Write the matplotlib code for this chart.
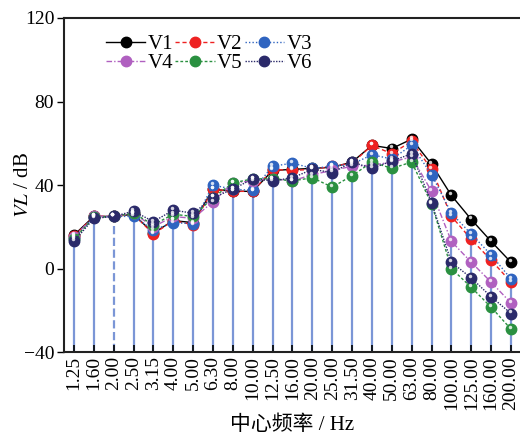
import matplotlib
matplotlib.use("Agg")
import matplotlib.pyplot as plt
import numpy as np

plt.rcParams['font.family'] = ['Liberation Serif', 'Noto Sans CJK SC']
plt.rcParams['mathtext.fontset'] = 'stix'

freqs = ["1.25", "1.60", "2.00", "2.50", "3.15", "4.00", "5.00", "6.30", "8.00",
         "10.00", "12.50", "16.00", "20.00", "25.00", "31.50", "40.00", "50.00",
         "63.00", "80.00", "100.00", "125.00", "160.00", "200.00"]

v1 = [16, 25, 25, 26, 17, 23, 22, 38, 37, 37, 47, 47.5, 48, 48.5, 51, 59, 57.5, 62, 50, 35, 23.5, 13, 3]
v2 = [15.5, 25, 25, 26, 16.5, 23, 21, 38, 37, 37, 47.5, 47, 47.5, 49, 50.5, 59, 55, 61, 47.5, 25, 14, 4, -6.5]
v3 = [14.5, 24.5, 25, 25, 18.5, 22, 21.5, 40, 38, 37.5, 49, 50.5, 48, 49, 50, 54.5, 52.5, 59, 45, 26.5, 16.5, 6.5, -5]
v4 = [15, 25, 25, 26.5, 20, 25, 24, 32, 41, 42, 43, 42, 45, 47, 49, 49.5, 51, 53.5, 37, 13, 3, -6.5, -16.5]
v5 = [14, 24.5, 25, 26.5, 21, 26, 25, 34, 41, 43, 43, 42, 43.5, 39, 44.5, 51, 48, 51, 31, 0, -9, -18.5, -29]
v6 = [13, 24, 25, 27.5, 22.5, 28, 26.5, 34, 38, 43, 42, 43.5, 47.5, 46, 51, 48, 51.5, 55, 31.5, 3, -4.5, -13.5, -21.5]

x = np.arange(len(freqs))

fig = plt.figure(figsize=(5.2, 4.38), dpi=100)
ax = fig.add_axes([0.123, 0.196, 0.877, 0.763])

# stems under the V3 series
stem_ls = ['-'] * len(x)
stem_ls[2] = '--'
for xi, yi, ls in zip(x, v3, stem_ls):
    ax.plot([xi, xi], [-40, yi], color='#7b96d6', lw=1.6, ls=ls, zorder=1)

series = [
    ("V1", v1, 'black', '-'),
    ("V2", v2, '#ee2222', (0, (3, 2))),
    ("V3", v3, '#2f64c0', (0, (1, 1.5))),
    ("V4", v4, '#b060c0', (0, (4, 1.5, 1, 1.5))),
    ("V5", v5, '#2a9040', (0, (2, 1.5))),
    ("V6", v6, '#2b2a6a', (0, (1, 1))),
]
handles = []
for name, vals, c, ls in series:
    h, = ax.plot(x, vals, color=c, ls=ls, lw=1.0, marker='o', ms=7.5, mfc=c, mec=c,
                 label=name, zorder=3)
    handles.append(h)
    # small highlight on the balls
    ax.plot(x - 0.06, np.array(vals) + 1.0, ls='none', marker='o', ms=2.5,
            mfc='white', mec='none', alpha=0.8, zorder=4)

ax.set_xlim(-0.5, 22.45)
ax.set_ylim(-40, 120)
ax.set_yticks([-40, 0, 40, 80, 120])
ax.set_xticks(x)
ax.set_xticklabels(freqs, rotation=90, fontsize=14)
ax.tick_params(axis='y', direction='out', labelsize=14, length=5, width=1, pad=2)
ax.tick_params(axis='x', direction='in', length=5, width=1.2, pad=3)
ax.spines['right'].set_visible(False)
for s in ['left', 'bottom', 'top']:
    ax.spines[s].set_linewidth(1.5)
    ax.spines[s].set_color('#222222')

ax.set_ylabel("$VL$ / dB", fontsize=15)
ax.yaxis.set_label_coords(-0.068, 0.5)
ax.set_xlabel("中心频率 / Hz", fontsize=15, labelpad=4)

# legend filled row by row: V1 V2 V3 / V4 V5 V6
order = [0, 3, 1, 4, 2, 5]
ax.legend([handles[i] for i in order], [series[i][0] for i in order],
          ncol=3, loc='upper left', bbox_to_anchor=(0.06, 0.995), frameon=False,
          fontsize=15, handlelength=1.9, handletextpad=0.1, columnspacing=0.1,
          labelspacing=0.0, borderpad=0.2)

fig.savefig("out.png", dpi=100)
